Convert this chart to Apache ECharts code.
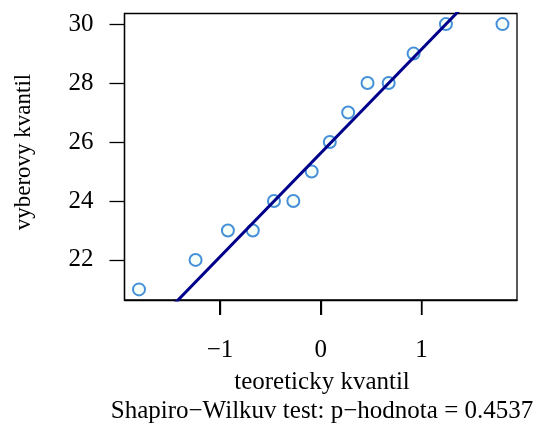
<!DOCTYPE html>
<html>
<head>
<meta charset="utf-8">
<script src="https://cdn.jsdelivr.net/npm/echarts@6/dist/echarts.min.js"></script>
<style>
  html, body { margin: 0; padding: 0; background: #fff; }
  #chart { width: 538px; height: 424px; }
</style>
</head>
<body>
<div id="chart"></div>
<script>
// Normal Q-Q plot: sample quantiles against theoretical normal quantiles
const theoretical = [-1.803, -1.242, -0.921, -0.674, -0.464, -0.272, -0.090, 0.090, 0.272, 0.464, 0.674, 0.921, 1.242, 1.803];
const sample = [21, 22, 23, 23, 24, 24, 25, 26, 27, 28, 28, 29, 30, 30];

// reference line through the quartiles (endpoints, clipped by the plot box)
const lineX = [-2, 2];
const lineY = [18.583, 32.667];

const xTicks = [-1, 0, 1];
const yTicks = [22, 24, 26, 28, 30];
const xRange = [-1.947, 1.947];
const yRange = [20.64, 30.36];

const xTitle = 'teoreticky kvantil';
const yTitle = 'vyberovy kvantil';
const subTitle = 'Shapiro\u2212Wilkuv test: p\u2212hodnota = 0.4537';

const FONT = '"Liberation Serif", "DejaVu Serif", serif';
const FS = 25;
const TICK_LEN = 15;
const fmt = v => (v < 0 ? '\u2212' + Math.abs(v) : String(v));

const chart = echarts.init(document.getElementById('chart'), null, { renderer: 'canvas' });

chart.setOption({
  animation: false,
  grid: {
    left: 124.5, top: 13.5, right: 21, bottom: 124,
    show: true, borderColor: '#000', borderWidth: 1.3
  },
  xAxis: {
    type: 'value', min: xRange[0], max: xRange[1],
    splitLine: { show: false },
    axisLine: { show: true, onZero: false, lineStyle: { color: '#000', width: 1.3 } },
    axisTick: { show: true, length: TICK_LEN, customValues: xTicks, lineStyle: { color: '#000', width: 1.3 } },
    axisLabel: { customValues: xTicks, formatter: fmt, margin: 38, color: '#000', fontFamily: FONT, fontSize: FS }
  },
  yAxis: {
    type: 'value', min: yRange[0], max: yRange[1],
    splitLine: { show: false },
    axisLine: { show: true, onZero: false, lineStyle: { color: '#000', width: 1.3 } },
    axisTick: { show: true, length: TICK_LEN, customValues: yTicks, lineStyle: { color: '#000', width: 1.3 } },
    axisLabel: { customValues: yTicks, formatter: fmt, margin: 31, color: '#000', fontFamily: FONT, fontSize: FS }
  },
  series: [
    {
      type: 'scatter',
      data: theoretical.map((x, i) => [x, sample[i]]),
      symbol: 'circle',
      symbolSize: 12,
      itemStyle: { color: '#F2FFF6', borderColor: '#1874D0', borderWidth: 2 },
      z: 3
    },
    {
      type: 'line',
      data: lineX.map((x, i) => [x, lineY[i]]),
      showSymbol: false,
      clip: true,
      lineStyle: { color: '#00008B', width: 3 },
      z: 4
    }
  ]
});

// axis titles, and tick marks below the x axis placed through the axis scale
const tickMarks = xTicks.map(v => {
  const p = chart.convertToPixel({ gridIndex: 0 }, [v, yRange[0]]);
  return {
    type: 'rect',
    z: 100,
    shape: { x: Math.round(p[0]) - 1, y: p[1], width: 1.6, height: TICK_LEN },
    style: { fill: '#000' }
  };
});
chart.setOption({
  graphic: [
    { type: 'text', style: { text: xTitle, x: 322, y: 382, align: 'center', verticalAlign: 'middle', font: FS + 'px ' + FONT, fill: '#000' } },
    { type: 'text', style: { text: subTitle, x: 322, y: 411, align: 'center', verticalAlign: 'middle', font: FS + 'px ' + FONT, fill: '#000' } },
    { type: 'text', x: 24, y: 152, rotation: Math.PI / 2, style: { text: yTitle, x: 0, y: 0, align: 'center', verticalAlign: 'middle', font: '23px ' + FONT, fill: '#000' } }
  ].concat(tickMarks)
});
</script>
</body>
</html>
